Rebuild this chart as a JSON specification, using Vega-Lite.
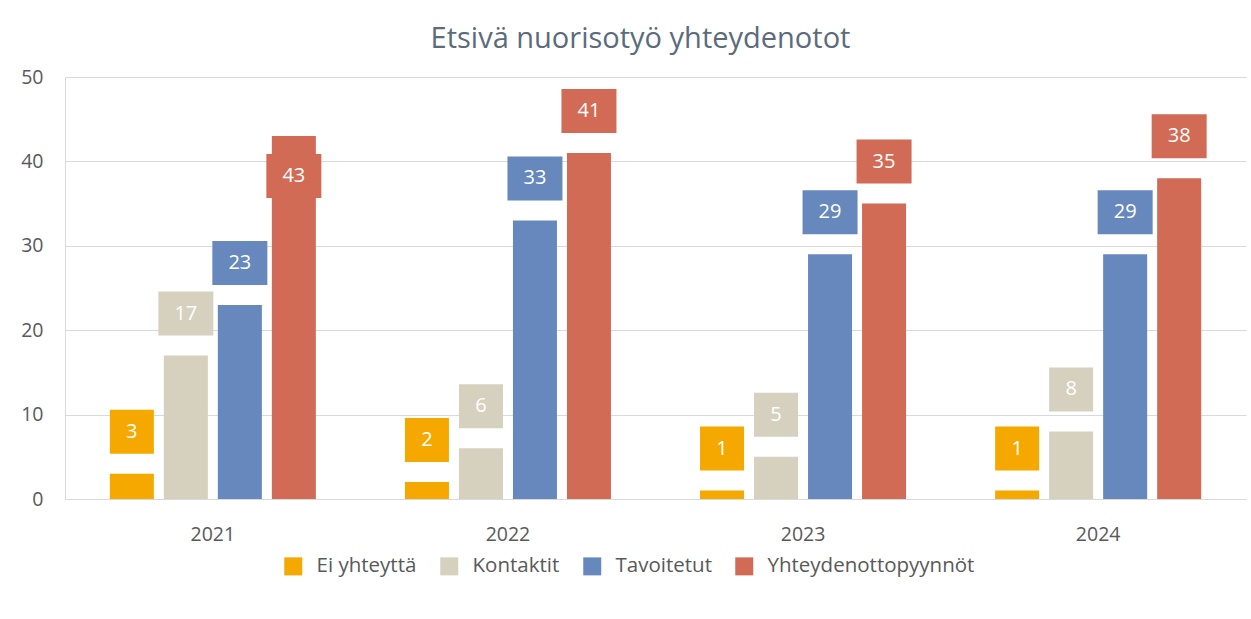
{
  "$schema": "https://vega.github.io/schema/vega-lite/v6.json",
  "autosize": {"type": "none"},
  "padding": {"left": 65, "top": 77, "right": 5, "bottom": 120},
  "width": 1181,
  "height": 422,
  "background": "white",
  "title": {
    "text": "Etsivä nuorisotyö yhteydenotot",
    "fontSize": 29,
    "font": "Open Sans",
    "fontWeight": "normal",
    "color": "#5B6B7B",
    "anchor": "middle",
    "dx": -15,
    "offset": 13
  },
  "config": {
    "font": "Open Sans",
    "view": {"stroke": null},
    "axis": {"labelColor": "#595959", "labelFontSize": 19.5, "ticks": false, "title": null}
  },
  "data": {
    "values": [
      {"vuosi": "2021", "sarja": "Ei yhteyttä", "arvo": 3},
      {"vuosi": "2021", "sarja": "Kontaktit", "arvo": 17},
      {"vuosi": "2021", "sarja": "Tavoitetut", "arvo": 23},
      {"vuosi": "2021", "sarja": "Yhteydenottopyynnöt", "arvo": 43},
      {"vuosi": "2022", "sarja": "Ei yhteyttä", "arvo": 2},
      {"vuosi": "2022", "sarja": "Kontaktit", "arvo": 6},
      {"vuosi": "2022", "sarja": "Tavoitetut", "arvo": 33},
      {"vuosi": "2022", "sarja": "Yhteydenottopyynnöt", "arvo": 41},
      {"vuosi": "2023", "sarja": "Ei yhteyttä", "arvo": 1},
      {"vuosi": "2023", "sarja": "Kontaktit", "arvo": 5},
      {"vuosi": "2023", "sarja": "Tavoitetut", "arvo": 29},
      {"vuosi": "2023", "sarja": "Yhteydenottopyynnöt", "arvo": 35},
      {"vuosi": "2024", "sarja": "Ei yhteyttä", "arvo": 1},
      {"vuosi": "2024", "sarja": "Kontaktit", "arvo": 8},
      {"vuosi": "2024", "sarja": "Tavoitetut", "arvo": 29},
      {"vuosi": "2024", "sarja": "Yhteydenottopyynnöt", "arvo": 38}
    ]
  },
  "encoding": {
    "x": {
      "field": "vuosi", "type": "nominal",
      "scale": {"paddingInner": 0.268, "paddingOuter": 0.135},
      "axis": {"labelAngle": 0, "domain": false, "grid": false, "labelPadding": 26}
    },
    "xOffset": {
      "field": "sarja", "type": "nominal",
      "sort": ["Ei yhteyttä", "Kontaktit", "Tavoitetut", "Yhteydenottopyynnöt"],
      "scale": {"paddingInner": 0.185, "paddingOuter": 0.0925}
    },
    "y": {
      "field": "arvo", "type": "quantitative",
      "scale": {"domain": [0, 50]},
      "axis": {"values": [0, 10, 20, 30, 40, 50], "domain": true, "domainColor": "#D9D9D9", "gridColor": "#D9D9D9", "labelPadding": 22}
    },
    "color": {
      "field": "sarja", "type": "nominal",
      "sort": ["Ei yhteyttä", "Kontaktit", "Tavoitetut", "Yhteydenottopyynnöt"],
      "scale": {
        "domain": ["Ei yhteyttä", "Kontaktit", "Tavoitetut", "Yhteydenottopyynnöt"],
        "range": ["#F5A800", "#D6D0BF", "#6688BC", "#D16B55"]
      },
      "legend": {
        "title": null,
        "orient": "none",
        "direction": "horizontal",
        "legendX": 218,
        "legendY": 479,
        "symbolType": "square",
        "symbolSize": 324,
        "symbolStrokeWidth": 0,
        "labelFontSize": 20.5,
        "labelColor": "#595959",
        "labelOffset": 13,
        "labelLimit": 0,
        "columnPadding": 22
      }
    }
  },
  "layer": [
    {"mark": {"type": "bar"}},
    {
      "transform": [{"filter": "datum.arvo <= 42"}],
      "mark": {"type": "point", "filled": true, "opacity": 1, "strokeWidth": 0, "yOffset": -42, "size": 1936},
      "encoding": {
        "shape": {"condition": {"test": "datum.arvo >= 10", "value": "M-1.25,-1H1.25V1H-1.25Z"}, "value": "M-1,-1H1V1H-1Z"}
      }
    },
    {
      "transform": [{"filter": "datum.arvo > 42"}],
      "mark": {"type": "point", "filled": true, "opacity": 1, "strokeWidth": 0, "yOffset": 40, "size": 1936},
      "encoding": {
        "shape": {"value": "M-1.25,-1H1.25V1H-1.25Z"}
      }
    },
    {
      "transform": [{"filter": "datum.arvo <= 42"}],
      "mark": {"type": "text", "color": "white", "fontSize": 20, "baseline": "middle", "align": "center", "yOffset": -42},
      "encoding": {"text": {"field": "arvo", "type": "quantitative"}, "color": {"value": "white"}}
    },
    {
      "transform": [{"filter": "datum.arvo > 42"}],
      "mark": {"type": "text", "color": "white", "fontSize": 20, "baseline": "middle", "align": "center", "yOffset": 40},
      "encoding": {"text": {"field": "arvo", "type": "quantitative"}, "color": {"value": "white"}}
    }
  ]
}
